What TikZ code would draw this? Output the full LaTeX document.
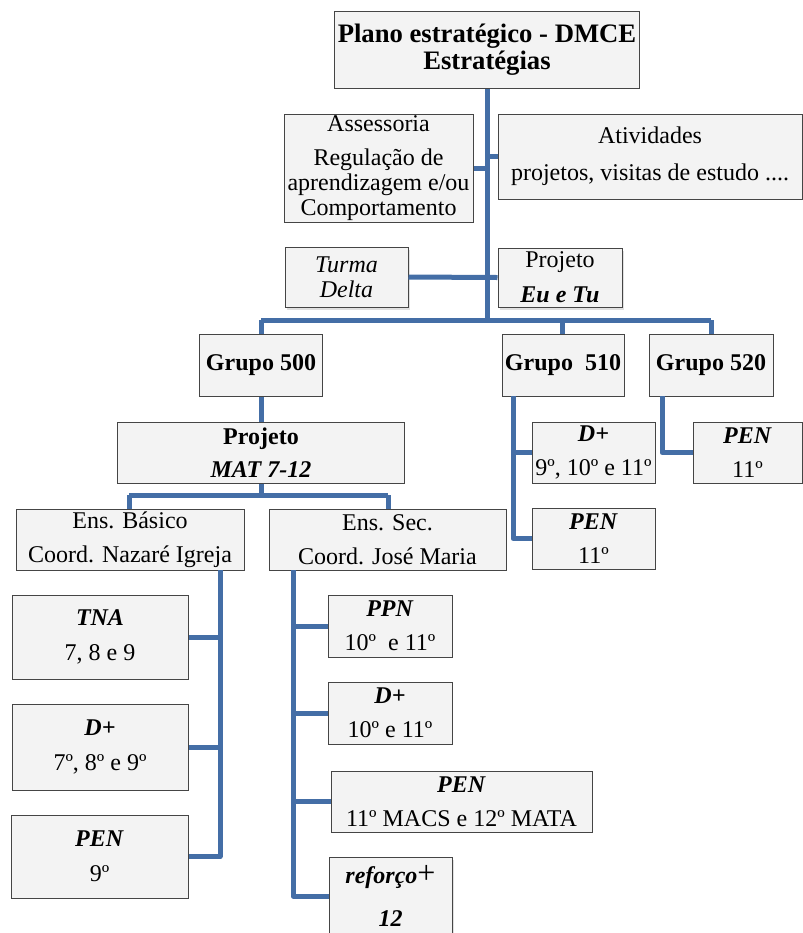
\documentclass[tikz,border=0pt]{standalone}
\usepackage{fontspec}
\setmainfont{Liberation Serif}
\usetikzlibrary{shadows}
\definecolor{connblue}{RGB}{68,110,166}
\definecolor{boxfill}{HTML}{F3F3F3}
\definecolor{boxline}{HTML}{454545}
\tikzset{
  box/.style={draw=boxline, fill=boxfill, line width=0.75pt, inner sep=0pt, align=center,
    text=black, font=\fontsize{18}{18.75}\selectfont},
  sbox/.style={box, drop shadow={shadow xshift=1.5pt, shadow yshift=-2pt, fill=black!40, opacity=0.3}},
  conn/.style={draw=connblue, line width=3.75pt, line join=round}
}
\newcommand{\bi}[1]{\textbf{\textit{#1}}}
\begin{document}
\begin{tikzpicture}[x=0.75pt,y=-0.75pt]
\useasboundingbox (0,0) rectangle (803,933);
\clip (0,0) rectangle (803,933);
% boxes
\node[box, minimum width=228.75pt, minimum height=57.75pt, font=\fontsize{20}{20.25}\selectfont\bfseries] (title) at (487,49.5) {Plano estratégico - DMCE\\Estratégias};
\node[box, minimum width=141.75pt, minimum height=81pt] (ases) at (378.5,168) {Assessoria\\[6.75pt]Regulação de\\aprendizagem e/ou\\Comportamento};
\node[box, minimum width=228pt, minimum height=63.75pt] (ativ) at (650,156.5) {Atividades\\[9pt]projetos, visitas de estudo ....};
\node[sbox, minimum width=92.25pt, minimum height=45pt] (turma) at (346.5,277) {\textit{Turma}\\\textit{Delta}};
\node[sbox, minimum width=93pt, minimum height=44.25pt] (eutu) at (560,277.5) {Projeto\\[7.5pt]\bi{Eu e Tu}};
\node[box, minimum width=92.25pt, minimum height=46.5pt] (g500) at (261,365) {\textbf{Grupo 500}};
\node[box, minimum width=91.5pt, minimum height=46.5pt] (g510) at (563,365) {\textbf{Grupo\ \ 510}};
\node[box, minimum width=93pt, minimum height=46.5pt] (g520) at (711,365) {\textbf{Grupo 520}};
\node[box, minimum width=215.25pt, minimum height=45.75pt] (mat) at (261,452.5) {\textbf{Projeto}\\[6pt]\bi{MAT 7-12}};
\node[box, minimum width=92.25pt, minimum height=45.75pt] (d510) at (593.5,452.5) {\bi{D+}\\[6.75pt]9º, 10º e 11º};
\node[box, minimum width=92.25pt, minimum height=45.75pt] (pen510) at (593.5,538.5) {\bi{PEN}\\[6.75pt]11º};
\node[box, minimum width=81.75pt, minimum height=45.75pt] (pen520) at (747.5,452.5) {\bi{PEN}\\[6.75pt]11º};
\node[box, minimum width=171pt, minimum height=45.75pt] (basico) at (130,539.5) {Ens. Básico\\[6.75pt]Coord. Nazaré Igreja};
\node[box, minimum width=177.75pt, minimum height=45.75pt] (sec) at (387.5,539.5) {Ens. Sec.\\[6.75pt]Coord. José Maria};
\node[box, minimum width=132pt, minimum height=63pt] (tna) at (100,637) {\bi{TNA}\\[7.5pt]7, 8 e 9};
\node[box, minimum width=132pt, minimum height=64.5pt] (dbas) at (100,747) {\bi{D+}\\[7.5pt]7º, 8º e 9º};
\node[box, minimum width=132.75pt, minimum height=62.25pt] (pen9) at (99.5,856.5) {\bi{PEN}\\[7.5pt]9º};
\node[box, minimum width=93pt, minimum height=46.5pt] (ppn) at (390,626) {\bi{PPN}\\[6.75pt]10º\ \ e 11º};
\node[box, minimum width=93pt, minimum height=46.5pt] (dsec) at (390,713) {\bi{D+}\\[6.75pt]10º e 11º};
\node[box, minimum width=195.75pt, minimum height=45.75pt] (pensec) at (461.5,801.5) {\bi{PEN}\\[6.75pt]11º MACS e 12º MATA};
\node[sbox, minimum width=92.25pt, minimum height=58.5pt] (reforco) at (390.5,896) {\bi{reforço}{\fontsize{24}{24}\selectfont +}\\[14pt]\bi{12}};
% junction coordinates
\coordinate (barL) at (261,320);
\coordinate (barR) at (711,320);
\coordinate (bar510) at (562,320);
\coordinate (secL) at (129,495);
\coordinate (secR) at (388,495);
\coordinate (j510) at (513,396);
\coordinate (j520) at (662,396);
\coordinate (jb) at (220,570);
\coordinate (js) at (293,570);
% connectors
\draw[conn] (title.south) -- (title.south |- barL);
\draw[conn] (ases.east) -- (ases.east -| title.south);
\draw[conn] (ativ.west -| title.south) -- (ativ.west);
\draw[conn] (turma.east) -- (eutu.west);
\draw[conn] (barL) -- (barR);
\draw[conn] (barL) -- (barL |- g500.north);
\draw[conn] (bar510) -- (bar510 |- g510.north);
\draw[conn] (barR) -- (barR |- g520.north);
\draw[conn] (g500.south) -- (mat.north);
\draw[conn] (mat.south) -- (mat.south |- secL);
\draw[conn] (secL) -- (secR);
\draw[conn] (secL) -- (secL |- basico.north);
\draw[conn] (secR) -- (secR |- sec.north);
\draw[conn] (j510) |- (pen510.west);
\draw[conn] (j510 |- d510.west) -- (d510.west);
\draw[conn] (j520) |- (pen520.west);
\draw[conn] (jb) |- (pen9.east);
\draw[conn] (tna.east) -- (tna.east -| jb);
\draw[conn] (dbas.east) -- (dbas.east -| jb);
\draw[conn] (js) |- (reforco.west);
\draw[conn] (js |- ppn.west) -- (ppn.west);
\draw[conn] (js |- dsec.west) -- (dsec.west);
\draw[conn] (js |- pensec.west) -- (pensec.west);
\end{tikzpicture}
\end{document}
